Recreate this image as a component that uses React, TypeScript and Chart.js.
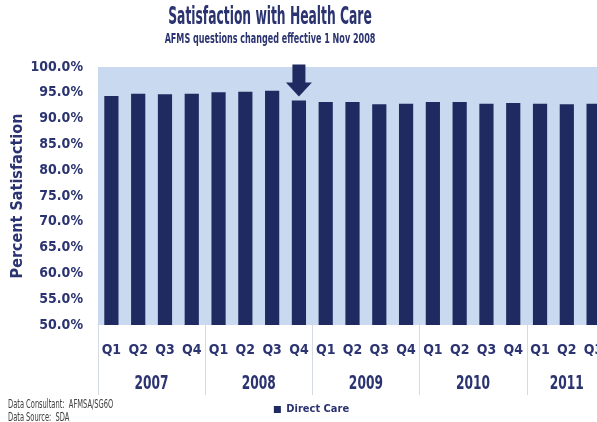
import { useEffect, useRef } from "react";
import { Chart, registerables } from "chart.js";

Chart.register(...registerables);

const quarters = ["Q1", "Q2", "Q3", "Q4", "Q1", "Q2", "Q3", "Q4", "Q1", "Q2", "Q3", "Q4", "Q1", "Q2", "Q3", "Q4", "Q1", "Q2", "Q3"];
const years = ["2007", "2007", "2007", "2007", "2008", "2008", "2008", "2008", "2009", "2009", "2009", "2009", "2010", "2010", "2010", "2010", "2011", "2011", "2011"];
const directCare = [94.4, 94.8, 94.7, 94.8, 95.1, 95.2, 95.4, 93.5, 93.2, 93.2, 92.8, 92.9, 93.2, 93.2, 92.9, 93.0, 92.9, 92.8, 92.9];
const yMin = 50;
const yMax = 100;
const yStep = 5;
const seriesName = "Direct Care";
const chartTitle = "Satisfaction with Health Care";
const chartSubtitle = "AFMS questions changed effective 1 Nov 2008";
const yAxisTitle = "Percent Satisfaction";
const changeIndex = 7; // Q4 2008: questions changed
const notes = ["Data Consultant:  AFMSA/SG6O", "Data Source:  SDA"];

const FONT = '"DejaVu Sans Condensed", "Liberation Sans Narrow", "Arial Narrow", sans-serif';
const NAVY = "#1f2a60";
const TEXT = "#2b3470";
const BG = "#c9d9ef";
const SEP = "#d6dae2";

function drawText(ctx: CanvasRenderingContext2D, text: string, x: number, y: number, font: string, sx: number, align: CanvasTextAlign, color: string) {
  ctx.save();
  ctx.font = font;
  ctx.fillStyle = color;
  ctx.textAlign = align;
  ctx.textBaseline = "middle";
  ctx.translate(x, y);
  ctx.scale(sx, 1);
  ctx.fillText(text, 0, 0);
  ctx.restore();
}

const decor = {
  id: "decor",
  beforeDraw(chart: any) {
    const { ctx, chartArea: a } = chart;
    ctx.save();
    ctx.fillStyle = BG;
    ctx.fillRect(a.left, a.top, a.right - a.left, a.bottom - a.top);
    ctx.restore();
  },
  afterDraw(chart: any) {
    const { ctx, chartArea: a } = chart;
    const x = chart.scales.x;
    const y = chart.scales.y;
    // title & subtitle
    drawText(ctx, chartTitle, 270, 18, `bold 24px ${FONT}`, 0.57, "center", TEXT);
    drawText(ctx, chartSubtitle, 270, 39, `bold 14px ${FONT}`, 0.64, "center", TEXT);

    // year groups
    const pitch = x.getPixelForValue(1) - x.getPixelForValue(0);
    let start = 0;
    for (let i = 1; i <= years.length; i++) {
      if (i === years.length || years[i] !== years[start]) {
        const left = x.getPixelForValue(start) - pitch / 2;
        const right = x.getPixelForValue(i - 1) + pitch / 2;
        ctx.save();
        ctx.strokeStyle = SEP;
        ctx.lineWidth = 1;
        ctx.beginPath();
        ctx.moveTo(Math.round(left) + 0.5, a.bottom);
        ctx.lineTo(Math.round(left) + 0.5, a.bottom + 70);
        ctx.stroke();
        ctx.restore();
        drawText(ctx, years[start], (left + right) / 2, a.bottom + 59, `bold 20px ${FONT}`, 0.68, "center", TEXT);
        start = i;
      }
    }

    // arrow marking the questionnaire change
    const ax = x.getPixelForValue(changeIndex);
    const tip = y.getPixelForValue(directCare[changeIndex]) - 4;
    ctx.save();
    ctx.fillStyle = NAVY;
    ctx.beginPath();
    ctx.moveTo(ax - 6.5, tip - 32);
    ctx.lineTo(ax + 6.5, tip - 32);
    ctx.lineTo(ax + 6.5, tip - 14);
    ctx.lineTo(ax + 13, tip - 14);
    ctx.lineTo(ax, tip);
    ctx.lineTo(ax - 13, tip - 14);
    ctx.lineTo(ax - 6.5, tip - 14);
    ctx.closePath();
    ctx.fill();
    ctx.restore();

    // notes
    drawText(ctx, notes[0], 8, 405, `12px ${FONT}`, 0.62, "left", "#3c3c3c");
    drawText(ctx, notes[1], 8, 418, `12px ${FONT}`, 0.62, "left", "#3c3c3c");
  },
};

export default function App() {
  const ref = useRef<HTMLCanvasElement>(null);
  useEffect(() => {
    if (!ref.current) return;
    const chart = new Chart(ref.current, {
      type: "bar",
      data: {
        labels: quarters,
        datasets: [
          {
            label: seriesName,
            data: directCare,
            backgroundColor: NAVY,
            borderWidth: 0,
            categoryPercentage: 1,
            barPercentage: 0.53,
          },
        ],
      },
      options: {
        responsive: false,
        animation: false,
        layout: { padding: { top: 67, right: 31, left: 16, bottom: -3 } },
        plugins: {
          tooltip: { enabled: false },
          legend: {
            position: "bottom",
            labels: {
              boxWidth: 7,
              boxHeight: 7,
              color: TEXT,
              padding: 4,
              font: { family: FONT, size: 11, weight: "bold" },
            },
          },
        },
        scales: {
          x: {
            grid: { display: false, drawTicks: false },
            border: { display: false },
            ticks: {
              color: TEXT,
              padding: 17,
              maxRotation: 0,
              autoSkip: false,
              font: { family: FONT, size: 14, weight: "bold" },
            },
            afterFit(scale: any) {
              scale.height = 75;
            },
          },
          y: {
            min: yMin,
            max: yMax,
            grid: { display: false, drawTicks: false },
            border: { display: false },
            ticks: {
              stepSize: yStep,
              color: TEXT,
              padding: 15,
              font: { family: FONT, size: 14, weight: "bold" },
              callback: (v: any) => Number(v).toFixed(1) + "%",
            },
            title: {
              display: true,
              text: yAxisTitle,
              color: TEXT,
              padding: { top: -8, bottom: 4 },
              font: { family: FONT, size: 16, weight: "bold" },
            },
            afterFit(scale: any) {
              scale.width = 82;
            },
          },
        },
      },
      plugins: [decor],
    });
    return () => chart.destroy();
  }, []);
  return (
    <div style={{ position: "fixed", left: 0, top: 0, width: 597, height: 422, overflow: "hidden", background: "#fff" }}>
      <canvas ref={ref} width={638} height={422} style={{ width: 638, height: 422, display: "block" }} />
    </div>
  );
}
